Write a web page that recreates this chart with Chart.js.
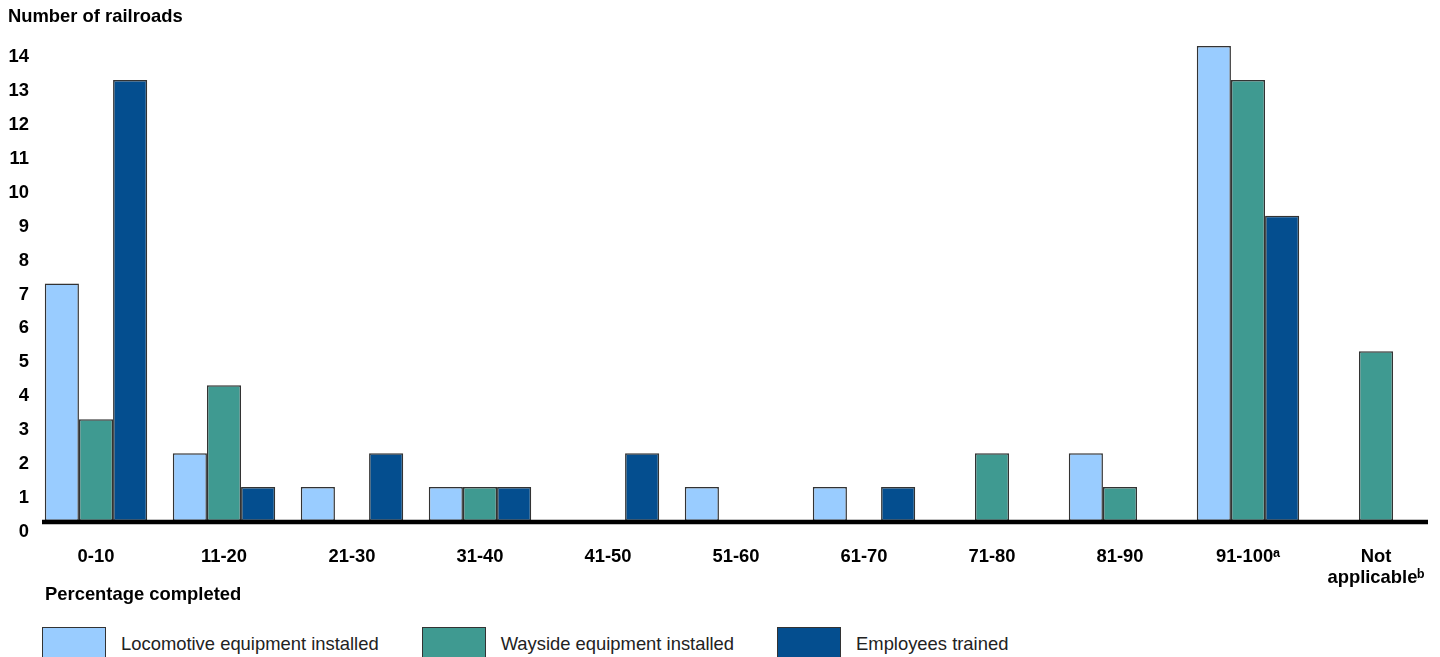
<!DOCTYPE html>
<html>
<head>
<meta charset="utf-8">
<script src="https://cdn.jsdelivr.net/npm/chart.js@4"></script>
<style>
  html, body { margin: 0; padding: 0; background: #fff; width: 1440px; height: 657px; overflow: hidden; }
  #wrap { position: absolute; left: 0; top: 0; width: 1440px; height: 606px; }
  #legend { position: absolute; left: 42px; top: 627px; display: flex; align-items: center;
            font-family: "Liberation Sans", Arial, sans-serif; font-size: 18.4px; color: #222; }
  .item { display: flex; align-items: center; margin-right: 43px; }
  .box { width: 62px; height: 31px; border: 1.5px solid #333; box-sizing: content-box; }
  .lbl { margin-left: 15px; line-height: 31px; }
</style>
</head>
<body>
<div id="wrap"><canvas id="c"></canvas></div>
<div id="legend"></div>
<script>
const categories = ["0-10", "11-20", "21-30", "31-40", "41-50", "51-60", "61-70", "71-80", "81-90", "91-100\u1D43", ["Not", "applicable\u1D47"]];
const locomotive = [7, 2, 1, 1, 0, 1, 1, 0, 2, 14, 0];
const wayside    = [3, 4, 0, 1, 0, 0, 0, 2, 1, 13, 5];
const employees  = [13, 1, 2, 1, 2, 0, 1, 0, 0, 9, 0];
const seriesNames = ["Locomotive equipment installed", "Wayside equipment installed", "Employees trained"];
const seriesColors = ["#99CCFF", "#3F9A91", "#044E8F"];
const yTicks = [0, 1, 2, 3, 4, 5, 6, 7, 8, 9, 10, 11, 12, 13, 14];

const FONT = '"Liberation Sans", Arial, sans-serif';
const FS = 18.4;

const baseline = {
  id: 'baseline',
  afterDatasetsDraw(chart) {
    const y = chart.scales.y.getPixelForValue(0);
    const ctx = chart.ctx;
    ctx.save();
    ctx.strokeStyle = '#000';
    ctx.lineWidth = 4.5;
    ctx.beginPath();
    ctx.moveTo(chart.chartArea.left + 10, y + 1);
    ctx.lineTo(chart.chartArea.right - 12, y + 1);
    ctx.stroke();
    ctx.restore();
  }
};

const values = [locomotive, wayside, employees];
const chart = new Chart(document.getElementById('c'), {
  type: 'bar',
  data: {
    labels: categories,
    datasets: values.map((v, i) => ({
      label: seriesNames[i],
      data: v,
      backgroundColor: seriesColors[i],
      borderColor: '#333',
      borderWidth: 1.5,
      borderSkipped: false,
      categoryPercentage: 0.8,
      barPercentage: 1.0
    }))
  },
  options: {
    responsive: true,
    maintainAspectRatio: false,
    animation: false,
    layout: { padding: { left: 8, right: 0, top: 0, bottom: 0 } },
    plugins: {
      legend: { display: false },
      tooltip: { enabled: false },
      title: {
        display: true,
        text: 'Number of railroads',
        align: 'start',
        color: '#000',
        font: { family: FONT, size: FS, weight: 'bold', lineHeight: 1.2 },
        padding: { top: 5.5, bottom: 18.4 }
      }
    },
    scales: {
      x: {
        afterFit(scale) {
          scale.paddingLeft = 0;
          scale.paddingRight = 0;
          if (!scale._titleShifted) {
            const orig = scale.drawTitle;
            scale.drawTitle = function () {
              this.ctx.save();
              this.ctx.translate(13, 0);
              orig.apply(this, arguments);
              this.ctx.restore();
            };
            scale._titleShifted = true;
          }
        },
        grid: { display: false, drawTicks: false },
        border: { display: false },
        ticks: {
          color: '#000',
          font: { family: FONT, size: FS, weight: 'bold', lineHeight: 1.15 },
          padding: 25.4,
          maxRotation: 0,
          autoSkip: false
        },
        title: {
          display: true,
          text: 'Percentage completed',
          align: 'start',
          color: '#000',
          font: { family: FONT, size: FS, weight: 'bold', lineHeight: 1.2 },
          padding: { top: -30.2, bottom: 0 }
        }
      },
      y: {
        min: 0,
        max: 14,
        afterBuildTicks(scale) { scale.ticks = yTicks.map(v => ({ value: v })); },
        afterFit(scale) { scale.width = 24; },
        grid: { display: false, drawTicks: false },
        border: { display: false },
        ticks: {
          color: '#000',
          font: { family: FONT, size: FS, weight: 'bold' },
          padding: 3,
          labelOffset: 11
        }
      }
    }
  },
  plugins: [baseline]
});

const legend = document.getElementById('legend');
chart.data.datasets.forEach(ds => {
  const item = document.createElement('div');
  item.className = 'item';
  const box = document.createElement('div');
  box.className = 'box';
  box.style.background = ds.backgroundColor;
  const lbl = document.createElement('span');
  lbl.className = 'lbl';
  lbl.textContent = ds.label;
  item.appendChild(box);
  item.appendChild(lbl);
  legend.appendChild(item);
});
</script>
</body>
</html>
